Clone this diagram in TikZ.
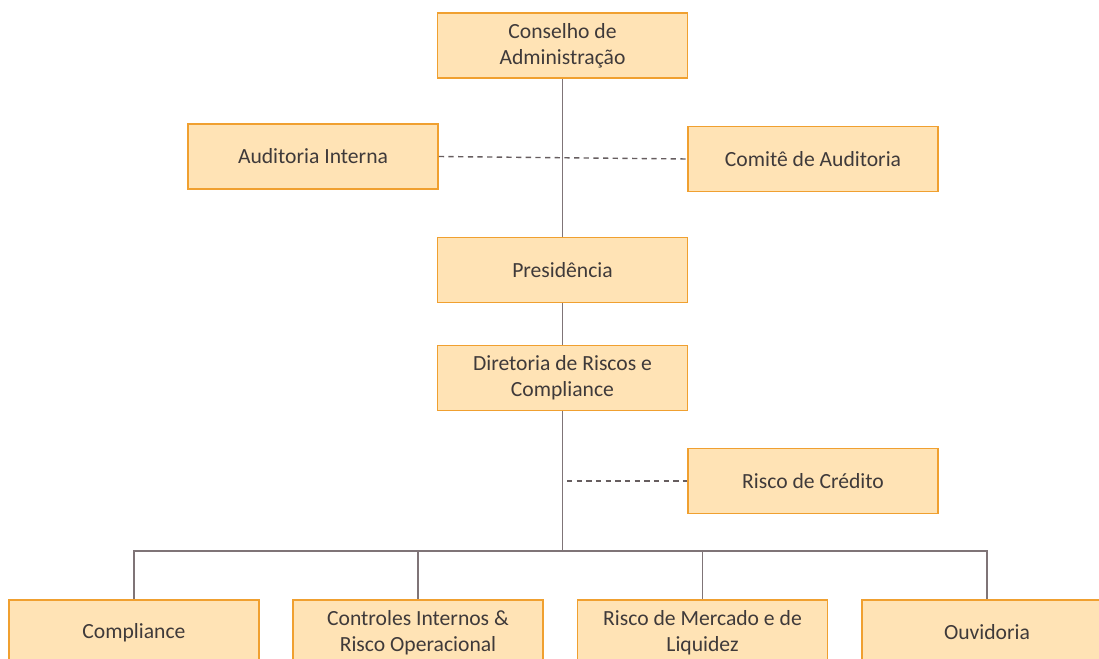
\documentclass[tikz,border=0pt]{standalone}
\usepackage{fontspec}
\setmainfont{Carlito}
\definecolor{boxfill}{HTML}{FFE3B5}
\definecolor{boxline}{HTML}{F0A030}
\definecolor{linkgray}{HTML}{7F7477}
\definecolor{textgray}{HTML}{3F3A3A}
\tikzset{
  orgbox/.style={draw=boxline, fill=boxfill, line width=0.9pt, minimum width=5cm,
    minimum height=1.3cm, align=center, text=textgray,
    font=\fontsize{12.3}{14.7}\selectfont},
  link/.style={draw=linkgray, line width=0.8pt},
  dotlink/.style={draw=linkgray!80!black, line width=0.8pt, dash pattern=on 3pt off 2.5pt}
}
\begin{document}
\begin{tikzpicture}[x=0.02cm,y=-0.02cm]
    \useasboundingbox (0,0) rectangle (1099,659);
    \clip (0,0) rectangle (1099,659);

    % upper chain
    \node[orgbox] (conselho) at (562.5,45.5) {Conselho de\\Administração};
    \node[orgbox] (auditoria) at (313,156.5) {Auditoria Interna};
    \node[orgbox] (comite) at (813,159) {Comitê de Auditoria};
    \node[orgbox] (presid) at (562.5,270) {Presidência};
    \node[orgbox] (diretoria) at (562.5,378) {Diretoria de Riscos e\\Compliance};
    \node[orgbox] (credito) at (813,481) {Risco de Crédito};

    % bottom row
    \node[orgbox] (compl) at (134,632.5) {Compliance};
    \node[orgbox] (controles) at (418,632.5) {Controles Internos \&\\Risco Operacional};
    \node[orgbox] (mercado) at (702.5,632.5) {Risco de Mercado e de\\Liquidez};
    \node[orgbox] (ouvid) at (987,632.5) {Ouvidoria};

    \coordinate (bus) at (562.5,551);
    \coordinate (tap) at (567,481);

    \draw[link] (conselho) -- (presid);
    \draw[link] (presid) -- (diretoria);
    \draw[link] (diretoria) -- (bus);
    \draw[link] (compl.north) |- (bus) -| (ouvid.north);
    \foreach \n in {controles,mercado} {
        \draw[link] (\n.north) -- (\n.north |- bus); }

    \draw[dotlink] (auditoria.east) -- (comite.west);
    \draw[dotlink] (tap) -- (credito.west);
\end{tikzpicture}
\end{document}
